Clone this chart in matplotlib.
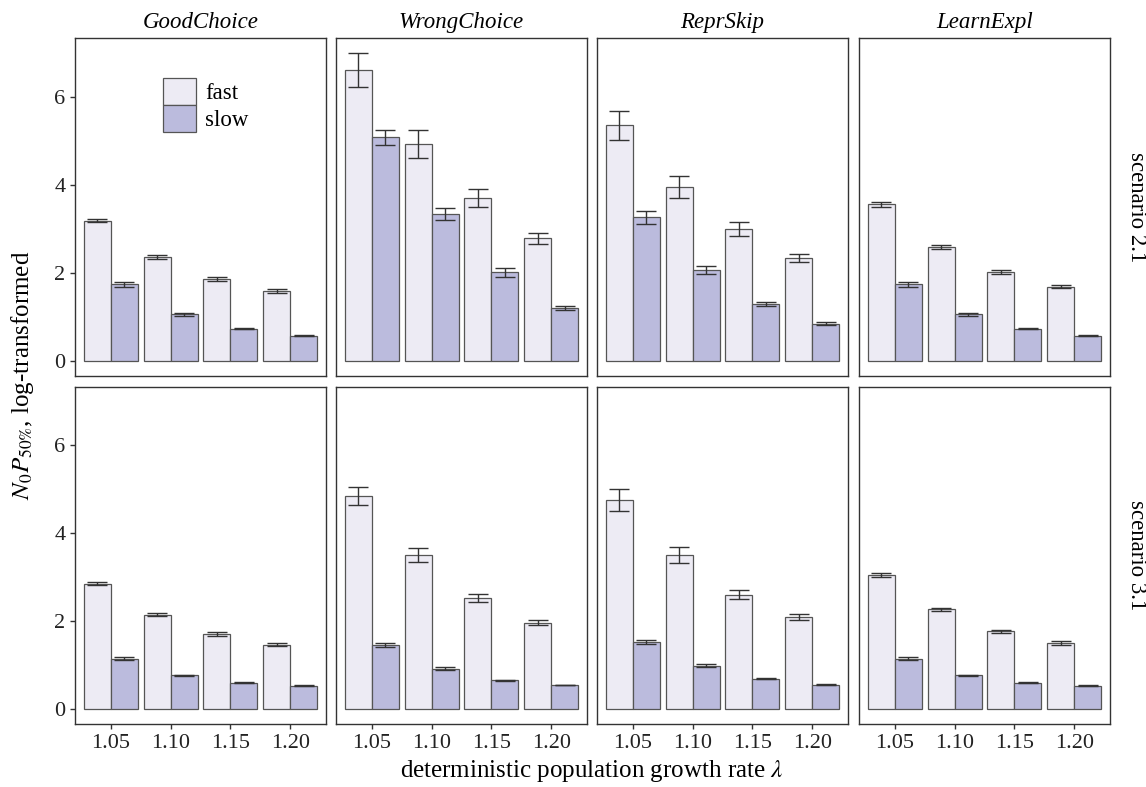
import numpy as np
import matplotlib
matplotlib.use("Agg")
import matplotlib.pyplot as plt
from matplotlib.patches import Patch

plt.rcParams['font.family'] = ['Liberation Serif', 'DejaVu Serif']
plt.rcParams['mathtext.fontset'] = 'stix'

# data
lambdas = ['1.05', '1.10', '1.15', '1.20']
models = ['GoodChoice', 'WrongChoice', 'ReprSkip', 'LearnExpl']
scenarios = ['scenario 2.1', 'scenario 3.1']

# scenario 2.1
fast_21 = [[3.18, 2.35, 1.85, 1.58],
           [6.60, 4.92, 3.69, 2.78],
           [5.35, 3.94, 2.99, 2.33],
           [3.55, 2.58, 2.01, 1.68]]
fast_21_err = [[0.04, 0.04, 0.04, 0.04],
               [0.38, 0.31, 0.21, 0.13],
               [0.33, 0.25, 0.15, 0.10],
               [0.05, 0.04, 0.04, 0.04]]
slow_21 = [[1.73, 1.05, 0.72, 0.57],
           [5.07, 3.33, 2.01, 1.19],
           [3.26, 2.06, 1.29, 0.84],
           [1.73, 1.05, 0.72, 0.57]]
slow_21_err = [[0.05, 0.03, 0.01, 0.01],
               [0.18, 0.14, 0.10, 0.05],
               [0.15, 0.10, 0.05, 0.03],
               [0.05, 0.03, 0.01, 0.01]]

# scenario 3.1
fast_31 = [[2.85, 2.14, 1.70, 1.46],
           [4.85, 3.50, 2.52, 1.96],
           [4.75, 3.50, 2.60, 2.08],
           [3.04, 2.26, 1.76, 1.50]]
fast_31_err = [[0.04, 0.04, 0.04, 0.04],
               [0.20, 0.15, 0.09, 0.06],
               [0.25, 0.18, 0.11, 0.07],
               [0.05, 0.04, 0.04, 0.04]]
slow_31 = [[1.14, 0.76, 0.59, 0.52],
           [1.45, 0.91, 0.65, 0.54],
           [1.52, 0.98, 0.68, 0.55],
           [1.14, 0.76, 0.59, 0.52]]
slow_31_err = [[0.03, 0.01, 0.01, 0.01],
               [0.05, 0.03, 0.01, 0.01],
               [0.05, 0.03, 0.01, 0.01],
               [0.03, 0.01, 0.01, 0.01]]

fast_col = '#EDEBF4'
slow_col = '#BBBBDD'
edge_col = '#555555'

fig = plt.figure(figsize=(11.46, 7.87), dpi=100)

W, H = 1146, 787
col_x = [75, 336, 597, 859]
col_w = 251
row_y = [(38, 376), (387, 724)]

x = np.arange(1, 5)
bw = 0.45
data = [(fast_21, fast_21_err, slow_21, slow_21_err),
        (fast_31, fast_31_err, slow_31, slow_31_err)]

axes = []
for r in range(2):
    fa, fe, sl, se = data[r]
    top, bot = row_y[r]
    for c in range(4):
        ax = fig.add_axes([col_x[c] / W, 1 - bot / H, col_w / W, (bot - top) / H])
        ax.bar(x - bw / 2, fa[c], width=bw, color=fast_col, edgecolor=edge_col, linewidth=0.9, label='fast')
        ax.bar(x + bw / 2, sl[c], width=bw, color=slow_col, edgecolor=edge_col, linewidth=0.9, label='slow')
        ax.errorbar(x - bw / 2, fa[c], yerr=fe[c], fmt='none', ecolor='#333333',
                    elinewidth=1, capsize=7, capthick=1)
        ax.errorbar(x + bw / 2, sl[c], yerr=se[c], fmt='none', ecolor='#333333',
                    elinewidth=1, capsize=7, capthick=1)
        ax.set_xlim(0.4, 4.6)
        ax.set_ylim(-0.35, 7.33)
        ax.set_xticks(x)
        ax.set_yticks([0, 2, 4, 6])
        ax.tick_params(direction='out', length=3.5, width=1, color='#333333',
                       labelsize=16, labelcolor='#222222')
        for s in ax.spines.values():
            s.set_color('#333333')
            s.set_linewidth(1)
        if r == 1:
            ax.set_xticklabels(lambdas)
        else:
            ax.tick_params(axis='x', bottom=False, labelbottom=False)
            ax.set_title(models[c], fontsize=16.5, style='italic', pad=7)
        if c != 0:
            ax.tick_params(axis='y', left=False, labelleft=False)
        if c == 3:
            ax.text(1.065, 0.5, scenarios[r], transform=ax.transAxes, rotation=-90,
                    ha='left', va='center', fontsize=16.5)
        axes.append(ax)

handles = [Patch(facecolor=fast_col, edgecolor=edge_col, linewidth=0.9, label='fast'),
           Patch(facecolor=slow_col, edgecolor=edge_col, linewidth=0.9, label='slow')]
axes[0].legend(handles=handles, loc='upper left', bbox_to_anchor=(0.35, 0.882),
               frameon=False, fontsize=16.5, handlelength=1.45, handleheight=1.45,
               labelspacing=0, handletextpad=0.4, borderpad=0, borderaxespad=0)

fig.text(0.516, 0.004, r'deterministic population growth rate $\lambda$',
         ha='center', va='bottom', fontsize=18)
fig.text(0.008, 1 - 375 / H, r'$N_0P_{50\%}$, log-transformed',
         rotation=90, ha='left', va='center', fontsize=18)

fig.savefig('out.png', dpi=100)
